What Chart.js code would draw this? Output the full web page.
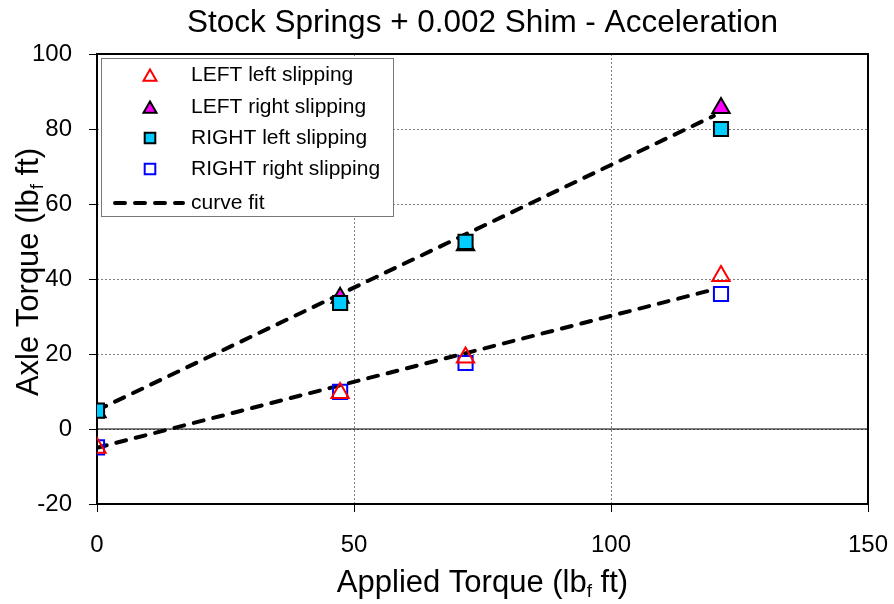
<!DOCTYPE html>
<html>
<head>
<meta charset="utf-8">
<script src="https://cdn.jsdelivr.net/npm/chart.js@4/dist/chart.umd.min.js"></script>
<style>
  html, body { margin: 0; padding: 0; background: #fff; }
  #wrap { width: 894px; height: 604px; }
</style>
</head>
<body>
<div id="wrap"><canvas id="grafico1" width="894" height="604"></canvas></div>
<script>
// Datos
const appliedTorque = [0, 47.3, 71.7, 121.4];
const leftLeftSlipping = [-5.0, 9.6, 19.1, 40.8];
const leftRightSlipping = [4.5, 35.0, 49.0, 85.6];
const rightLeftSlipping = [4.9, 33.6, 49.9, 80.0];
const rightRightSlipping = [-4.9, 9.9, 17.6, 36.0];
const fitX = [0, 120];
const fitUpper = [5.0, 83.5];
const fitLower = [-5.0, 37.2];
const seriesNames = ['LEFT left slipping', 'LEFT right slipping', 'RIGHT left slipping', 'RIGHT right slipping', 'curve fit'];
const xRange = [0, 150];
const xStep = 50;
const yRange = [-20, 100];
const yStep = 20;

const FONT = '"Liberation Sans", Arial, sans-serif';
const chartTitle = 'Stock Springs + 0.002 Shim - Acceleration';

function pts(xs, ys) {
    return xs.map((x, i) => ({ x: x, y: ys[i] }));
}

// Texto centrado con subíndice
function drawSubText(ctx, parts, x, y, size) {
    const subSize = Math.round(size * 0.62);
    let total = 0;
    parts.forEach(p => {
        ctx.font = (p.sub ? subSize : size) + 'px ' + FONT;
        total += ctx.measureText(p.t).width;
    });
    let cx = x - total / 2;
    ctx.textAlign = 'left';
    ctx.textBaseline = 'middle';
    parts.forEach(p => {
        ctx.font = (p.sub ? subSize : size) + 'px ' + FONT;
        ctx.fillText(p.t, cx, p.sub ? y + size * 0.28 : y);
        cx += ctx.measureText(p.t).width;
    });
}

const decorPlugin = {
    id: 'decor',
    beforeDatasetsDraw(chart) {
        const { ctx, chartArea: a, scales } = chart;
        ctx.save();
        // línea del cero
        const y0 = scales.y.getPixelForValue(0);
        ctx.strokeStyle = '#000';
        ctx.lineWidth = 1;
        ctx.beginPath();
        ctx.moveTo(a.left, y0);
        ctx.lineTo(a.right, y0);
        ctx.stroke();
        // marco
        ctx.lineWidth = 2;
        ctx.strokeRect(a.left, a.top, a.right - a.left, a.bottom - a.top);
        ctx.restore();
    },
    afterDraw(chart) {
        const { ctx, chartArea: a } = chart;
        const cxArea = (a.left + a.right) / 2;
        ctx.save();
        ctx.fillStyle = '#000';
        // título
        drawSubText(ctx, [{ t: chartTitle }], cxArea, 23, 31.5);
        // títulos de ejes
        drawSubText(ctx, [{ t: 'Applied Torque (lb' }, { t: 'f', sub: true }, { t: ' ft)' }], cxArea, 583, 31);
        ctx.save();
        ctx.translate(29, 272);
        ctx.rotate(-Math.PI / 2);
        drawSubText(ctx, [{ t: 'Axle Torque (lb' }, { t: 'f', sub: true }, { t: ' ft)' }], 0, 0, 31);
        ctx.restore();

        // Leyenda dentro del área
        const bx = 101, by = 58, bw = 292, bh = 158;
        ctx.fillStyle = '#fff';
        ctx.fillRect(bx, by, bw, bh);
        ctx.strokeStyle = '#777';
        ctx.lineWidth = 1;
        ctx.strokeRect(bx + 0.5, by + 0.5, bw, bh);
        const rows = [75, 107, 138, 169, 203];
        const items = chart.data.datasets.filter(d => !d.legendHidden);
        items.forEach((ds, i) => {
            const y = rows[i];
            if (ds.showLine) {
                ctx.save();
                ctx.strokeStyle = ds.borderColor;
                ctx.lineWidth = ds.borderWidth;
                ctx.lineCap = 'round';
                ctx.setLineDash(ds.borderDash);
                ctx.beginPath();
                ctx.moveTo(115, y);
                ctx.lineTo(183, y);
                ctx.stroke();
                ctx.restore();
            } else {
                ctx.fillStyle = ds.backgroundColor;
                ctx.strokeStyle = ds.borderColor;
                ctx.lineWidth = 2;
                Chart.helpers.drawPoint(ctx, {
                    pointStyle: ds.pointStyle, radius: 7.5, borderWidth: 2, rotation: 0
                }, 150, y + (ds.pointStyle === 'triangle' ? 2 : 0));
            }
            ctx.fillStyle = '#000';
            ctx.font = '21px ' + FONT;
            ctx.textAlign = 'left';
            ctx.textBaseline = 'middle';
            ctx.fillText(ds.label, 191, y);
        });
        ctx.restore();
    }
};

const markerBase = { showLine: false, borderWidth: 2, pointRadius: 10, pointHoverRadius: 10 };
const fitBase = {
    showLine: true, pointRadius: 0, borderColor: '#000', backgroundColor: '#000',
    borderWidth: 4, borderDash: [10, 10], borderCapStyle: 'round', order: 5
};

const config = {
    type: 'scatter',
    data: {
        datasets: [
            Object.assign({}, markerBase, {
                label: seriesNames[0], data: pts(appliedTorque, leftLeftSlipping),
                pointStyle: 'triangle', borderColor: '#ff0000', backgroundColor: 'rgba(0,0,0,0)', order: 0
            }),
            Object.assign({}, markerBase, {
                label: seriesNames[1], data: pts(appliedTorque, leftRightSlipping),
                pointStyle: 'triangle', borderColor: '#000', backgroundColor: '#ff00ff', order: 2
            }),
            Object.assign({}, markerBase, {
                label: seriesNames[2], data: pts(appliedTorque, rightLeftSlipping),
                pointStyle: 'rect', borderColor: '#000', backgroundColor: '#00ccff', order: 1
            }),
            Object.assign({}, markerBase, {
                label: seriesNames[3], data: pts(appliedTorque, rightRightSlipping),
                pointStyle: 'rect', borderColor: '#0000ff', backgroundColor: 'rgba(0,0,0,0)', order: 3
            }),
            Object.assign({}, fitBase, { label: seriesNames[4], data: pts(fitX, fitUpper) }),
            Object.assign({}, fitBase, { label: seriesNames[4], data: pts(fitX, fitLower), legendHidden: true })
        ]
    },
    options: {
        responsive: false,
        animation: false,
        layout: { padding: { left: 0, right: 26, top: 54, bottom: 0 } },
        plugins: {
            legend: { display: false },
            tooltip: { enabled: false },
            title: { display: false }
        },
        scales: {
            x: {
                type: 'linear',
                min: xRange[0], max: xRange[1],
                ticks: { stepSize: xStep, color: '#000', font: { family: FONT, size: 24 }, padding: 19, maxRotation: 0 },
                grid: { color: '#808080', tickColor: '#000', tickLength: 8, tickBorderDash: [], lineWidth: 1 },
                border: { display: false, dash: [2, 2] },
                afterFit: s => { s.height = 100; s.paddingLeft = 0; s.paddingRight = 0; }
            },
            y: {
                type: 'linear',
                min: yRange[0], max: yRange[1],
                ticks: { stepSize: yStep, color: '#000', font: { family: FONT, size: 24 }, padding: 17 },
                grid: { color: '#808080', tickColor: '#000', tickLength: 8, tickBorderDash: [], lineWidth: 1 },
                border: { display: false, dash: [2, 2] },
                afterFit: s => { s.width = 97; s.paddingTop = 0; s.paddingBottom = 0; }
            }
        }
    },
    plugins: [decorPlugin]
};

const ctx = document.getElementById('grafico1').getContext('2d');
new Chart(ctx, config);
</script>
</body>
</html>
